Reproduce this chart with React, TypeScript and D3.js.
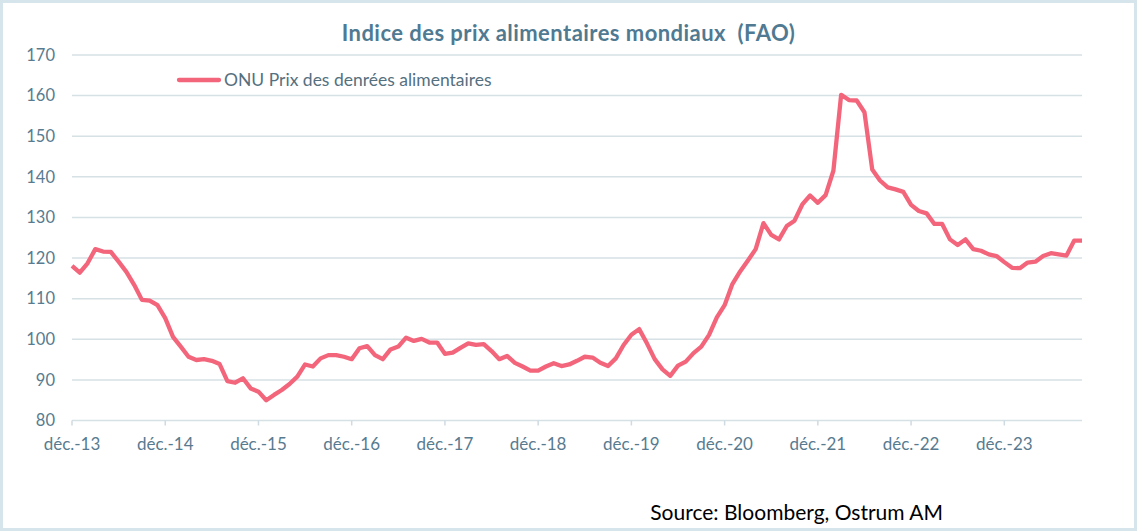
import React, { useEffect, useRef } from 'react';
import * as d3 from 'd3';

// FAO food price index, monthly, déc. 2013 -> oct. 2024
const startMonth = new Date(2013, 11, 1);
const endMonth = new Date(2024, 10, 1);
const months = d3.timeMonth.range(startMonth, endMonth);

const foodIndex = [
    118.1, 116.4, 118.7, 122.2, 121.6, 121.5, 119.1, 116.6, 113.4, 109.7, 109.5, 108.4,
    105.2, 100.6, 98.2, 95.7, 94.9, 95.1, 94.7, 93.9, 89.7, 89.3, 90.4, 87.9,
    87.1, 85.0, 86.3, 87.5, 89.0, 90.8, 93.8, 93.3, 95.3, 96.1, 96.1, 95.7,
    95.1, 97.8, 98.3, 96.1, 95.1, 97.5, 98.2, 100.4, 99.6, 100.1, 99.2, 99.2,
    96.4, 96.7, 97.9, 99.0, 98.6, 98.8, 97.1, 95.1, 95.9, 94.2, 93.3, 92.3,
    92.3, 93.3, 94.1, 93.4, 93.8, 94.7, 95.7, 95.5, 94.2, 93.4, 95.3, 98.6,
    101.1, 102.5, 99.0, 95.1, 92.6, 91.0, 93.5, 94.5, 96.6, 98.2, 101.1, 105.4,
    108.4, 113.6, 116.7, 119.4, 122.2, 128.6, 125.7, 124.6, 127.9, 129.2, 133.2, 135.4,
    133.6, 135.5, 141.5, 160.2, 158.9, 158.8, 155.9, 141.8, 139.1, 137.4, 136.9, 136.3,
    133.1, 131.6, 131.0, 128.4, 128.4, 124.6, 123.2, 124.6, 122.2, 121.8, 120.9, 120.5,
    119.0, 117.6, 117.5, 118.9, 119.1, 120.5, 121.2, 120.9, 120.6, 124.3, 124.3
];

const yTicks = [80, 90, 100, 110, 120, 130, 140, 150, 160, 170];
const xTickLabels = ['déc.-13', 'déc.-14', 'déc.-15', 'déc.-16', 'déc.-17', 'déc.-18',
    'déc.-19', 'déc.-20', 'déc.-21', 'déc.-22', 'déc.-23'];

const title = 'Indice des prix alimentaires mondiaux  (FAO)';
const seriesName = 'ONU Prix des denrées alimentaires';
const sourceText = 'Source: Bloomberg, Ostrum AM';

const FONT = 'Lato, "Open Sans", sans-serif';

const App: React.FC = () => {
    const chartRef = useRef<SVGSVGElement | null>(null);

    useEffect(() => {
        if (!chartRef.current) return;
        const width = 1137;
        const height = 531;
        const margin = { top: 55, right: 55, bottom: 110.5, left: 72 };

        const svg = d3.select(chartRef.current)
            .attr('width', width)
            .attr('height', height);
        svg.selectAll('*').remove();

        svg.append('rect')
            .attr('x', 1.5).attr('y', 1.5)
            .attr('width', width - 3).attr('height', height - 3)
            .attr('fill', 'white')
            .attr('stroke', '#d6e4ec')
            .attr('stroke-width', 3);

        const x = d3.scaleLinear()
            .domain([0, months.length - 1])
            .range([margin.left, width - margin.right]);
        const y = d3.scaleLinear()
            .domain([80, 170])
            .range([height - margin.bottom, margin.top]);

        // gridlines
        svg.append('g')
            .selectAll('line')
            .data(yTicks)
            .enter().append('line')
            .attr('x1', x(0))
            .attr('x2', x(months.length - 1))
            .attr('y1', d => y(d))
            .attr('y2', d => y(d))
            .attr('stroke', '#d6e1e6')
            .attr('stroke-width', 1.5);

        // y labels
        svg.append('g')
            .selectAll('text')
            .data(yTicks)
            .enter().append('text')
            .attr('x', 55)
            .attr('y', d => y(d))
            .attr('dy', '0.35em')
            .attr('text-anchor', 'end')
            .style('font-family', FONT)
            .style('font-size', '16.5px')
            .style('fill', '#587b90')
            .text(d => d);

        // x ticks every 12 months
        const tickIdx = xTickLabels.map((_, i) => i * 12);
        const xg = svg.append('g');
        xg.selectAll('line')
            .data(tickIdx)
            .enter().append('line')
            .attr('x1', d => x(d)).attr('x2', d => x(d))
            .attr('y1', y(80)).attr('y2', y(80) + 5)
            .attr('stroke', '#cfdbe2')
            .attr('stroke-width', 1.5);
        xg.selectAll('text')
            .data(tickIdx)
            .enter().append('text')
            .attr('x', d => x(d))
            .attr('y', y(80) + 24)
            .attr('dy', '0.35em')
            .attr('text-anchor', 'middle')
            .style('font-family', FONT)
            .style('font-size', '17px')
            .style('fill', '#587b90')
            .text((d, i) => xTickLabels[i]);

        const line = d3.line<number>()
            .x((d, i) => x(i))
            .y(d => y(d));

        svg.append('path')
            .datum(foodIndex)
            .attr('d', line)
            .attr('fill', 'none')
            .attr('stroke', '#f3657b')
            .attr('stroke-width', 4.3)
            .attr('stroke-linejoin', 'round');

        // title
        svg.append('text')
            .attr('x', width / 2)
            .attr('y', 33)
            .attr('dy', '0.35em')
            .attr('text-anchor', 'middle')
            .style('white-space', 'pre')
            .style('font-family', FONT)
            .style('font-weight', 'bold')
            .style('font-size', '22px')
            .style('letter-spacing', '0.45px')
            .style('fill', '#4f7a92')
            .text(title);

        // legend
        const legend = svg.append('g').attr('transform', 'translate(179, 80)');
        legend.append('line')
            .attr('x1', 0).attr('x2', 40)
            .attr('stroke', '#f3657b')
            .attr('stroke-width', 4.3)
            .attr('stroke-linecap', 'round');
        legend.append('text')
            .attr('x', 45)
            .attr('dy', '0.35em')
            .style('font-family', FONT)
            .style('font-size', '17.5px')
            .style('fill', '#55707f')
            .text(seriesName);

        svg.append('text')
            .attr('x', 943)
            .attr('y', 513)
            .attr('dy', '0.35em')
            .attr('text-anchor', 'end')
            .style('font-family', FONT)
            .style('font-size', '21px')
            .style('fill', '#000')
            .text(sourceText);
    }, []);

    return (
        <svg ref={chartRef} style={{ position: 'absolute', left: 0, top: 0, display: 'block' }}></svg>
    );
};

export default App;
